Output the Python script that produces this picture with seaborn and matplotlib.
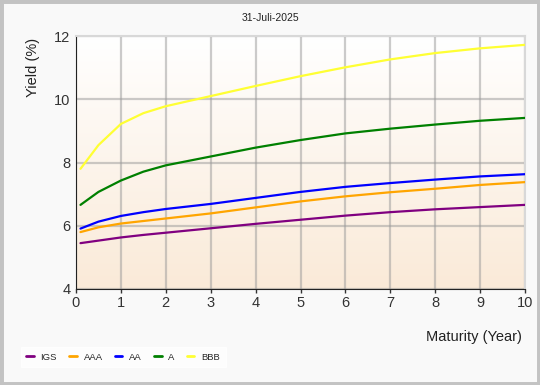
import numpy as np
import pandas as pd
import seaborn as sns
import matplotlib.pyplot as plt
from matplotlib.lines import Line2D
from matplotlib.patches import Rectangle

maturity = [0.1, 0.5, 1, 1.5, 2, 3, 4, 5, 6, 7, 8, 9, 10]
igs = [5.45, 5.53, 5.63, 5.71, 5.78, 5.92, 6.06, 6.19, 6.32, 6.43, 6.52, 6.59, 6.66]
aaa = [5.80, 5.95, 6.07, 6.15, 6.23, 6.39, 6.58, 6.77, 6.93, 7.06, 7.17, 7.29, 7.38]
aa = [5.91, 6.13, 6.31, 6.43, 6.53, 6.69, 6.88, 7.07, 7.23, 7.35, 7.46, 7.56, 7.63]
a = [6.66, 7.07, 7.43, 7.71, 7.91, 8.19, 8.47, 8.71, 8.92, 9.07, 9.20, 9.32, 9.41]
bbb = [7.80, 8.55, 9.22, 9.56, 9.78, 10.10, 10.42, 10.73, 11.01, 11.26, 11.46, 11.61, 11.72]

ratings = ["IGS", "AAA", "AA", "A", "BBB"]
colors = {"IGS": "#800080", "AAA": "#FFA500", "AA": "#0000FF", "A": "#008000", "BBB": "#FFFF33"}

df = pd.DataFrame({"Maturity": maturity, "IGS": igs, "AAA": aaa, "AA": aa, "A": a, "BBB": bbb})
long = df.melt(id_vars="Maturity", var_name="Rating", value_name="Yield")

sns.set_style("white")
plt.rcParams["font.family"] = ["Liberation Sans", "DejaVu Sans"]

fig = plt.figure(figsize=(5.4, 3.85), dpi=100)
fig.patch.set_facecolor("#F9F9F9")
fig.patches.append(Rectangle((0, 0), 1, 1, transform=fig.transFigure, fill=False,
                             edgecolor="#C3C3C3", linewidth=5, zorder=10))

ax = fig.add_axes([76 / 540, 1 - 289 / 385, 449 / 540, 253 / 385])

# gradient background white -> light peach
grad = np.linspace(0, 1, 256).reshape(-1, 1)
top = np.array([1.0, 1.0, 1.0])
bot = np.array([0xFA, 0xEA, 0xD8]) / 255
img = top + (bot - top) * grad[:, :, None]
ax.imshow(img, extent=[0, 10, 4, 12], aspect="auto", origin="upper", zorder=0)

sns.lineplot(data=long, x="Maturity", y="Yield", hue="Rating", hue_order=ratings,
             palette=colors, linewidth=1.6, legend=False, ax=ax, zorder=3)

ax.set_xlim(0, 10)
ax.set_ylim(4, 12)
ax.set_xticks(range(0, 11))
ax.set_yticks([4, 6, 8, 10, 12])
ax.grid(True, color="#999999", alpha=0.5, linewidth=1.6)
for gl in ax.get_xgridlines() + ax.get_ygridlines():
    gl.set_zorder(1)
ax.tick_params(axis="both", labelsize=10.5, colors="#333333", length=3, width=1,
               bottom=True, left=False, pad=2)
ax.tick_params(axis="y", pad=1)
ax.set_xlabel("")
ax.set_ylabel("")
for side in ["top", "right"]:
    ax.spines[side].set_color("#D8D8D8")
    ax.spines[side].set_linewidth(1.5)
ax.spines["left"].set_color("#222222")
ax.spines["bottom"].set_color("#222222")

fig.text(270 / 540, 1 - 18 / 385, "31-Juli-2025", ha="center", va="center", fontsize=7.5, color="#222222")
fig.text(33 / 540, 1 - 38 / 385, "Yield (%)", rotation=90, ha="center", va="top", fontsize=10.5, color="#222222")
fig.text(522 / 540, 1 - 337 / 385, "Maturity (Year)", ha="right", va="center", fontsize=10.5, color="#222222")

handles = [Line2D([0], [0], color=colors[r], linewidth=2) for r in ratings]
leg = fig.legend(handles, ratings, loc="lower left", bbox_to_anchor=(16 / 540, 13 / 385),
                 ncol=5, fontsize=6.8, frameon=True, handlelength=0.8, handletextpad=0.7,
                 columnspacing=1.3, borderpad=0.6, fancybox=False)
leg.get_frame().set_facecolor("white")
leg.get_frame().set_edgecolor("white")

fig.savefig("out.png", dpi=100, facecolor=fig.get_facecolor())
